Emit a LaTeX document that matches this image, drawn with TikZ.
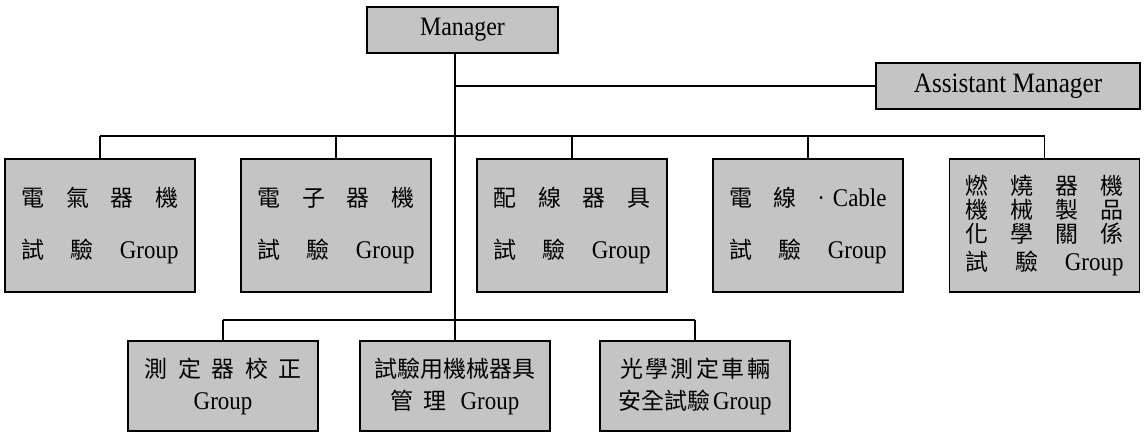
\documentclass[tikz,border=0pt]{standalone}
\usepackage{fontspec}
\setmainfont[FakeStretch=0.9]{Liberation Serif}
\newfontfamily\cjk[Scale=0.9]{Noto Sans CJK TC}
\newcommand{\spreadrow}[2][157pt]{\makebox[#1]{#2}}
\definecolor{boxgray}{gray}{0.77}

\begin{document}
\begin{tikzpicture}[x=1pt,y=-1pt,
	box/.style={draw=black, line width=1.7pt, fill=boxgray, inner sep=0pt, align=center, font=\fontsize{25.5}{26}\selectfont},
	headbox/.style={box, minimum height=46pt},
	upbox/.style={box, minimum width=190pt, minimum height=133pt},
	lowbox/.style={box, minimum width=190pt, minimum height=90pt},
	link/.style={line width=1.2pt, black}]
	\useasboundingbox (0,0) rectangle (1146,432);
	\node[headbox, minimum width=191pt, font=\fontsize{26.5}{28}\selectfont] (mgr) at (462.5,30) {Manager};
	\node[headbox, minimum width=264pt, font=\fontsize{28}{30}\selectfont] (asst) at (1008,86) {Assistant Manager};
	\node[upbox] (up1) at (100,225.5) {\spreadrow{{\cjk 電\hfill 氣\hfill 器\hfill 機}}\\[26pt]\spreadrow{{\cjk 試\hfill 驗}\hfill Group}};
	\node[upbox] (up2) at (336,225.5) {\spreadrow{{\cjk 電\hfill 子\hfill 器\hfill 機}}\\[26pt]\spreadrow{{\cjk 試\hfill 驗}\hfill Group}};
	\node[upbox] (up3) at (572,225.5) {\spreadrow{{\cjk 配\hfill 線\hfill 器\hfill 具}}\\[26pt]\spreadrow{{\cjk 試\hfill 驗}\hfill Group}};
	\node[upbox] (up4) at (808,225.5) {\spreadrow{{\cjk 電\hfill 線}\hfill ·\hspace{8pt}Cable}\\[26pt]\spreadrow{{\cjk 試\hfill 驗}\hfill Group}};
	\node[upbox, font=\fontsize{25.5}{24}\selectfont] (up5) at (1044.5,225.5) {\spreadrow[158pt]{{\cjk 燃\hfill 燒\hfill 器\hfill 機}}\\\spreadrow[158pt]{{\cjk 機\hfill 械\hfill 製\hfill 品}}\\\spreadrow[158pt]{{\cjk 化\hfill 學\hfill 關\hfill 係}}\\[4pt]\spreadrow[158pt]{{\cjk 試\hfill 驗}\hfill Group}};
	\node[lowbox] (low1) at (223,386) {\spreadrow{{\cjk 測\hfill 定\hfill 器\hfill 校\hfill 正}}\\[6pt]Group};
	\node[lowbox] (low2) at (455,386) {{\cjk 試驗用機械器具}\\[6pt]{\cjk 管}\hspace{10pt}{\cjk 理}\hspace{14pt}Group};
	\node[lowbox] (low3) at (695,386) {\spreadrow[150pt]{{\cjk 光\hfill 學\hfill 測\hfill 定\hfill 車\hfill 輛}}\\[6pt]{\cjk 安全試驗}\hspace{3pt}Group};
	\coordinate (tbus) at (0,136);
	\coordinate (lbus) at (0,320);
	\draw[link] (mgr.south -| low2.north) -- (low2.north);
	\draw[link] (low2.north |- asst.west) -- (asst.west);
	\draw[link] (up1.north |- tbus) -- (up5.north |- tbus);
	\foreach \n in {1,...,5} \draw[link] (up\n.north |- tbus) -- (up\n.north);
	\draw[link] (low1.north |- lbus) -- (low3.north |- lbus);
	\foreach \n in {1,3} \draw[link] (low\n.north |- lbus) -- (low\n.north);
\end{tikzpicture}
\end{document}
